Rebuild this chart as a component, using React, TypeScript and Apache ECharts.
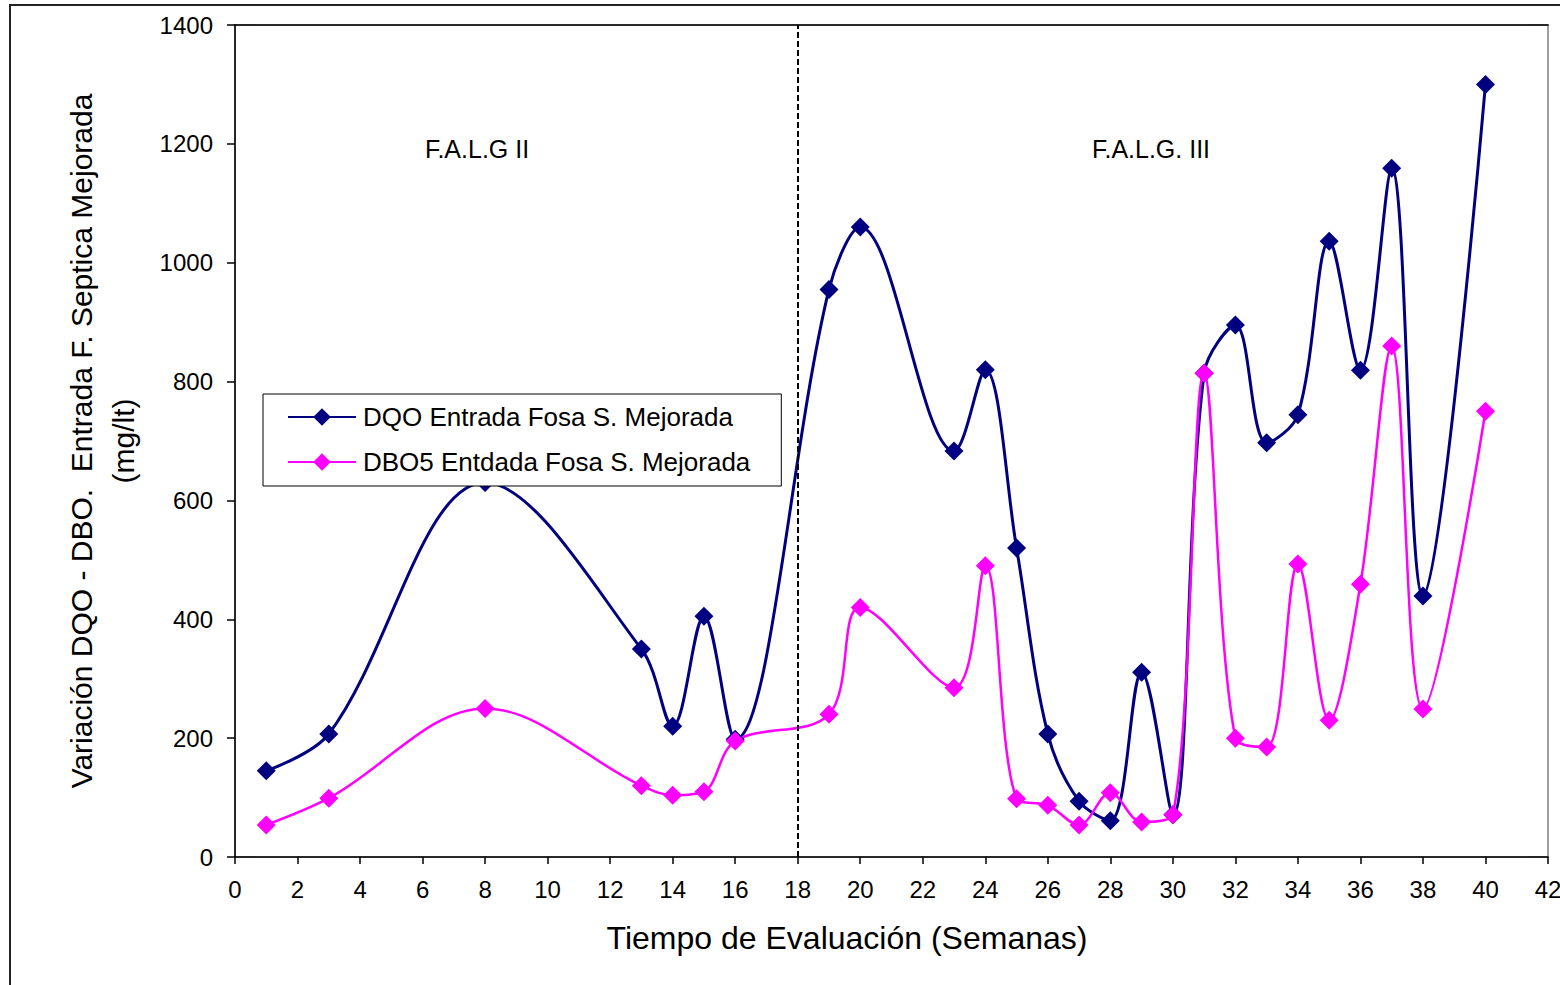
import React, { useEffect, useRef } from "react";
import * as echarts from "echarts";

// Semanas de evaluación y concentraciones (mg/lt)
const semanas = [1, 3, 8, 13, 14, 15, 16, 19, 20, 23, 24, 25, 26, 27, 28, 29, 30, 31, 32, 33, 34, 35, 36, 37, 38, 40];
const dqo = [145, 207, 630, 350, 220, 405, 198, 955, 1060, 683, 820, 520, 207, 94, 61, 311, 71, 814, 895, 697, 744, 1036, 819, 1159, 439, 1300];
const dbo5 = [54, 99, 250, 120, 104, 110, 195, 240, 420, 285, 490, 98, 87, 54, 108, 59, 71, 814, 200, 185, 493, 230, 459, 860, 249, 750];

const nombreDqo = "DQO Entrada Fosa S. Mejorada";
const nombreDbo = "DBO5 Entdada Fosa S. Mejorada";
const limiteFases = 18;
const faseII = "F.A.L.G II";
const faseIII = "F.A.L.G. III";
const tituloX = "Tiempo de Evaluación (Semanas)";
const tituloY = "Variación DQO - DBO.  Entrada F. Septica Mejorada\n(mg/lt)";

const FONT = "'Liberation Sans', Arial, sans-serif";

const pares = (ys: number[]) => semanas.map((s, i) => [s, ys[i]]);

export default function App() {
  const ref = useRef<HTMLDivElement>(null);

  useEffect(() => {
    if (!ref.current) return;
    const chart = echarts.init(ref.current, null, { renderer: "svg" });
    chart.setOption({
      animation: false,
      backgroundColor: "#fff",
      grid: {
        left: 235,
        top: 25,
        right: 12,
        bottom: 128,
        outerBoundsMode: "none",
        show: true,
        borderColor: "#808080",
        borderWidth: 1.5,
      },
      legend: {
        orient: "vertical",
        left: 263,
        top: 394,
        backgroundColor: "#fff",
        borderColor: "#000",
        borderWidth: 1,
        borderRadius: 0,
        padding: [10, 31, 11, 24],
        itemWidth: 68,
        itemHeight: 22,
        itemGap: 19,
        textStyle: { fontFamily: FONT, fontSize: 26, color: "#000", padding: [0, 0, 0, 2] },
        data: [nombreDqo, nombreDbo],
      },
      xAxis: [
        {
          type: "value",
          min: 0,
          max: 42,
          interval: 2,
          axisLine: { lineStyle: { color: "#000", width: 1.5 } },
          axisTick: { length: 7, lineStyle: { color: "#000", width: 1.5 } },
          axisLabel: { fontFamily: FONT, fontSize: 24, color: "#000", margin: 20 },
          splitLine: { show: false },
        },
        {
          type: "value",
          position: "top",
          min: 0,
          max: 42,
          axisLine: { show: true, lineStyle: { color: "#000", width: 1.5 } },
          axisTick: { show: false },
          axisLabel: { show: false },
          splitLine: { show: false },
        },
      ],
      yAxis: {
        type: "value",
        min: 0,
        max: 1400,
        interval: 200,
        axisLine: { show: true, lineStyle: { color: "#000", width: 1.5 } },
        axisTick: { show: true, length: 8, lineStyle: { color: "#000", width: 1.5 } },
        axisLabel: {
          fontFamily: FONT,
          fontSize: 24,
          color: "#000",
          margin: 22,
          formatter: (v: number) => String(v),
        },
        splitLine: { show: false },
      },
      series: [
        {
          name: nombreDqo,
          type: "line",
          data: pares(dqo),
          smooth: 0.35,
          symbol: "diamond",
          symbolSize: 19,
          color: "#000080",
          lineStyle: { color: "#000080", width: 3 },
          itemStyle: { color: "#000080" },
          markLine: {
            silent: true,
            symbol: "none",
            label: { show: false },
            lineStyle: { color: "#000", width: 2, type: [6, 3] },
            data: [{ xAxis: limiteFases }],
          },
        },
        {
          name: nombreDbo,
          type: "line",
          data: pares(dbo5),
          smooth: 0.35,
          symbol: "diamond",
          symbolSize: 19,
          color: "#FF00FF",
          lineStyle: { color: "#FF00FF", width: 2.5 },
          itemStyle: { color: "#FF00FF" },
        },
      ],
      graphic: [
        {
          type: "rect",
          z: -1,
          silent: true,
          shape: { x: 10, y: 5, width: 1700, height: 1200 },
          style: { fill: "none", stroke: "#222", lineWidth: 2 },
        },
        {
          type: "text",
          x: 477,
          y: 149,
          style: { text: faseII, font: `25px ${FONT}`, fill: "#000", align: "center", verticalAlign: "middle" },
        },
        {
          type: "text",
          x: 1151,
          y: 149,
          style: { text: faseIII, font: `25px ${FONT}`, fill: "#000", align: "center", verticalAlign: "middle" },
        },
        {
          type: "text",
          x: 847,
          y: 938,
          style: { text: tituloX, font: `32px ${FONT}`, fill: "#000", align: "center", verticalAlign: "middle" },
        },
        {
          type: "text",
          x: 102,
          y: 441,
          rotation: Math.PI / 2,
          style: {
            text: tituloY,
            font: `30px ${FONT}`,
            lineHeight: 42,
            fill: "#000",
            align: "center",
            verticalAlign: "middle",
          },
        },
      ],
    });
    return () => chart.dispose();
  }, []);

  return (
    <div
      ref={ref}
      style={{ position: "absolute", left: 0, top: 0, width: 1560, height: 985 }}
    />
  );
}
